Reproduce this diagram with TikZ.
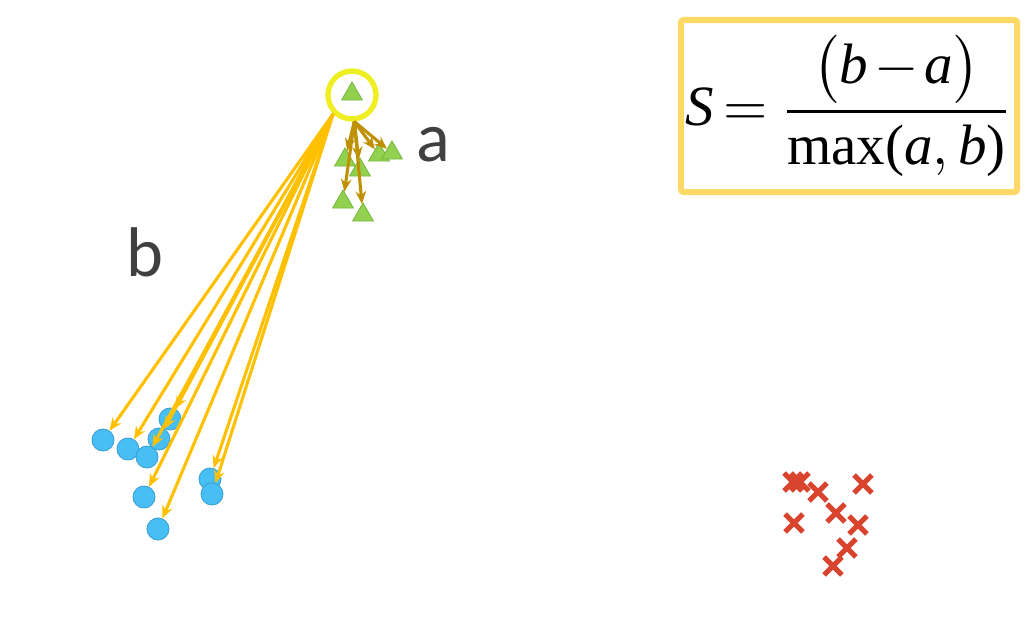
\documentclass[tikz,border=0pt]{standalone}
\usepackage{fontspec}
\usepackage{graphicx}
\newfontfamily\lblfont{Carlito}
\newfontfamily\tms{Liberation Serif}
\usetikzlibrary{arrows.meta,shapes.geometric,shapes.misc}
\definecolor{trigreen}{HTML}{92D050}
\definecolor{triedge}{HTML}{78B83C}
\definecolor{dotblue}{HTML}{47BFF5}
\definecolor{dotedge}{HTML}{3A9FD0}
\definecolor{crossred}{HTML}{D9442E}
\definecolor{ringyellow}{HTML}{EEEE22}
\definecolor{boxyellow}{HTML}{FFD966}
\definecolor{distb}{HTML}{FFC000}
\definecolor{dista}{HTML}{BF9000}
\definecolor{lblgray}{HTML}{404040}
\newcommand{\tv}[1]{\hbox{\tms\itshape #1}}
\begin{document}
\begin{tikzpicture}[x=0.025cm,y=-0.025cm,>={Stealth[length=9pt,width=7.5pt]},
    tri/.style={regular polygon,regular polygon sides=3,inner sep=0pt,minimum size=0.6cm,fill=trigreen,draw=triedge,line width=0.6pt},
    dot/.style={circle,inner sep=0pt,minimum size=0.55cm,fill=dotblue,draw=dotedge,line width=0.6pt},
    crs/.style={cross out,draw=crossred,line width=3.6pt,minimum size=0.32cm,inner sep=0pt},
    lbl/.style={text=lblgray,font=\lblfont\fontsize{50}{60}\selectfont}]
    \useasboundingbox[fill=white] (0,0) rectangle (1024,625);

    % cluster of the chosen point
    \node[tri] (p) at (352,94) {};
    \node[circle,draw=ringyellow,line width=3.8pt,minimum size=1.2cm] (sel) at (352,95) {};
    \foreach \x/\y [count=\i] in {345/160,360/170,379/155,392/153,343/202,363/215}
      \node[tri] (a\i) at (\x,\y) {};

    % nearest other cluster
    \foreach \x/\y [count=\i] in {103/440,128/449,147/457,159/439,170/419,210/479,212/494,144/497,158/529}
      \node[dot] (b\i) at (\x,\y) {};

    % third cluster
    \foreach \x/\y [count=\i] in {793/482,800/482,818/492,863/484,836/513,794/523,858/525,847/548,833/566}
      \node[crs] (c\i) at (\x,\y) {};

    \foreach \i in {1,...,9}
      \draw[->,distb,line width=2.2pt] (sel.225) -- (b\i);
    \foreach \i in {1,...,6}
      \draw[->,dista,line width=2.2pt] (sel.275) -- (a\i);

    \node[lbl] (la) at (433,145) {a};
    \node[lbl] (lb) at (145,252) {b};

    \node[draw=boxyellow,line width=4.3pt,minimum width=8.4cm,minimum height=4.3cm,inner sep=0pt,rounded corners=2pt] (formula) at (849,106)
      {\scalebox{4.05}{$\displaystyle \tv{S}\mskip3mu{=}\mskip4mu\frac{\bigl(\tv{b}\mskip2mu{-}\mskip2mu\tv{a}\bigr)}{\hbox{\tms max(}\tv{a},\tv{b}\hbox{\tms )}}$}};
\end{tikzpicture}
\end{document}
